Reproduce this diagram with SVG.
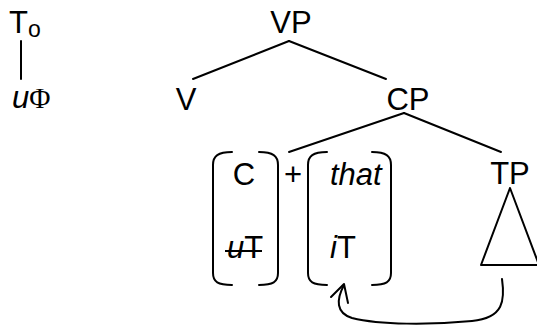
<svg xmlns="http://www.w3.org/2000/svg" width="537" height="327" viewBox="0 0 537 327">
  <style>
    .lbl { font-family: "Liberation Sans", Arial, sans-serif; font-size: 31px; fill: #000; }
    .it { font-style: italic; }
    .sym { font-family: "Liberation Serif", "Times New Roman", serif; font-size: 29px; }
    .ln { stroke: #000; stroke-width: 2; fill: none; stroke-linecap: round; stroke-linejoin: round; }
  </style>

  <rect width="537" height="327" fill="#fff"/>

  <!-- probe feature -->
  <g id="t0">
    <text class="lbl" x="9" y="33">T<tspan font-size="23" dy="4">o</tspan></text>
    <line class="ln" x1="21" y1="41" x2="21" y2="79"/>
    <text class="lbl" x="12" y="108"><tspan class="it">u</tspan><tspan class="sym">Φ</tspan></text>
  </g>

  <!-- tree nodes -->
  <g id="vp"><text class="lbl" x="291" y="33" text-anchor="middle">VP</text></g>
  <g id="v"><text class="lbl" x="186" y="110" text-anchor="middle">V</text></g>
  <g id="cp"><text class="lbl" x="408" y="110" text-anchor="middle">CP</text></g>
  <g id="tp">
    <text class="lbl" x="510" y="184" text-anchor="middle">TP</text>
    <polygon class="ln" points="510,188 481,265 539,265"/>
  </g>

  <!-- complementiser feature bundle -->
  <g id="c">
    <path class="ln" d="M232 152 C218 152 213 156 213 165 L213 273 C213 282 218 285 232 285"/>
    <path class="ln" d="M259 152 C273 152 278 156 278 165 L278 273 C278 282 273 285 259 285"/>
    <text class="lbl" x="244" y="185" text-anchor="middle">C</text>
    <text class="lbl" x="227" y="258"><tspan class="it">u</tspan>T</text>
    <line x1="225" y1="251" x2="262" y2="251" stroke="#000" stroke-width="2"/>
  </g>

  <g id="plus"><text class="lbl" x="293" y="185" text-anchor="middle">+</text></g>

  <!-- that bundle -->
  <g id="that">
    <path class="ln" d="M327 152 C313 152 308 156 308 165 L308 273 C308 282 313 285 327 285"/>
    <path class="ln" d="M372 152 C386 152 391 156 391 165 L391 273 C391 282 386 285 372 285"/>
    <text class="lbl it" x="330" y="185">that</text>
    <text class="lbl" x="330" y="258"><tspan class="it">i</tspan>T</text>
  </g>

  <!-- connectors -->
  <g id="edges">
    <line class="ln" x1="289" y1="41" x2="193" y2="79"/>
    <line class="ln" x1="289" y1="41" x2="386" y2="79"/>
    <line class="ln" x1="404" y1="113" x2="289" y2="152"/>
    <line class="ln" x1="404" y1="113" x2="501" y2="152"/>
    <path class="ln" d="M502 279 C505 300 504 318 472 321 C430 325 380 325 352 318 C336 313 336 300 344 285"/>
    <path class="ln" d="M331 297 L344 284 L348 303"/>
  </g>
</svg>
